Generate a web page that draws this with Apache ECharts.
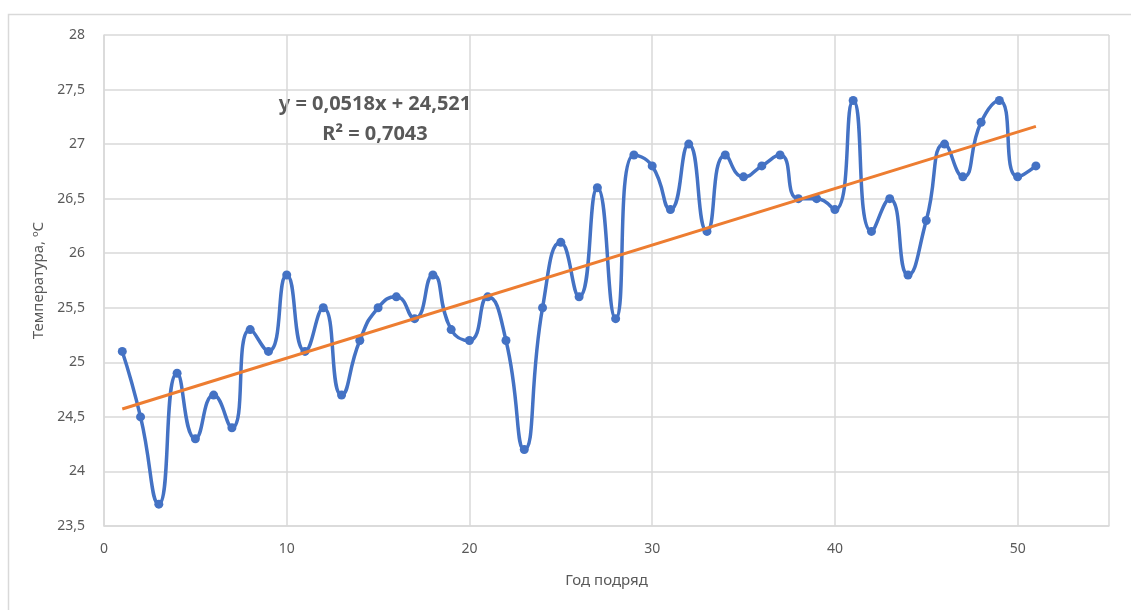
<!DOCTYPE html>
<html>
<head>
<meta charset="utf-8">
<script src="https://cdn.jsdelivr.net/npm/echarts@6/dist/echarts.min.js"></script>
<style>
  html, body { margin: 0; padding: 0; background: #fff; }
  #chart { width: 1131px; height: 610px; }
</style>
</head>
<body>
<div id="chart"></div>
<script>
// годы подряд и температуры
const years = [];
for (let i = 1; i <= 51; i++) years.push(i);
const temps = [
  25.1, 24.5, 23.7, 24.9, 24.3, 24.7, 24.4, 25.3, 25.1, 25.8,
  25.1, 25.5, 24.7, 25.2, 25.5, 25.6, 25.4, 25.8, 25.3, 25.2,
  25.6, 25.2, 24.2, 25.5, 26.1, 25.6, 26.6, 25.4, 26.9, 26.8,
  26.4, 27.0, 26.2, 26.9, 26.7, 26.8, 26.9, 26.5, 26.5, 26.4,
  27.4, 26.2, 26.5, 25.8, 26.3, 27.0, 26.7, 27.2, 27.4, 26.7,
  26.8
];
// линия тренда из уравнения на графике
const trendSlope = 0.0518;
const trendIntercept = 24.521;
const trendX = [1, 51];

const fmt = v => String(v).replace('.', ',');
const textColor = '#595959';
const gridColor = '#d9d9d9';
const font = 'Noto Sans';

const chart = echarts.init(document.getElementById('chart'));

chart.setOption({
  animation: false,
  textStyle: { fontFamily: font },
  grid: { left: 104, right: 22, top: 35, bottom: 84 },
  graphic: [
    {
      type: 'rect', silent: true,
      shape: { x: 8.5, y: 14.5, width: 1130, height: 610 },
      style: { fill: 'none', stroke: gridColor, lineWidth: 1.5 }
    },
    {
      type: 'text', x: 375, y: 104,
      style: { text: 'y = 0,0518x + 24,521', font: 'bold 20px ' + font, fill: textColor,
        align: 'center', verticalAlign: 'middle' }
    },
    {
      type: 'text', x: 375, y: 134,
      style: { text: 'R² = 0,7043', font: 'bold 20px ' + font, fill: textColor,
        align: 'center', verticalAlign: 'middle' }
    }
  ],
  xAxis: {
    type: 'value', min: 0, max: 55, interval: 10,
    name: 'Год подряд', nameLocation: 'middle', nameGap: 47,
    nameTextStyle: { color: textColor, fontSize: 15 },
    axisLine: { lineStyle: { color: gridColor, width: 1.5 } },
    axisTick: { show: false },
    axisLabel: { color: textColor, fontSize: 14, margin: 16,
      formatter: v => (v % 10 === 0 ? fmt(v) : '') },
    splitLine: { show: true, lineStyle: { color: gridColor, width: 1.5 } }
  },
  yAxis: {
    type: 'value', min: 23.5, max: 28, interval: 0.5,
    name: 'Температура, ºС', nameLocation: 'middle', nameGap: 57, nameRotate: 90,
    nameTextStyle: { color: textColor, fontSize: 15 },
    axisLine: { show: true, lineStyle: { color: gridColor, width: 1.5 } },
    axisTick: { show: false },
    axisLabel: { color: textColor, fontSize: 14, margin: 19, formatter: v => fmt(v) },
    splitLine: { lineStyle: { color: gridColor, width: 1.5 } }
  },
  series: [
    {
      type: 'line',
      data: years.map((x, i) => [x, temps[i]]),
      smooth: 0.55,
      symbol: 'circle', symbolSize: 9,
      lineStyle: { color: '#4472C4', width: 3.5 },
      itemStyle: { color: '#4472C4' },
      z: 3
    },
    {
      type: 'line',
      data: trendX.map(x => [x, trendSlope * x + trendIntercept]),
      symbol: 'none',
      lineStyle: { color: '#ED7D31', width: 3 },
      z: 4
    }
  ]
});
</script>
</body>
</html>
